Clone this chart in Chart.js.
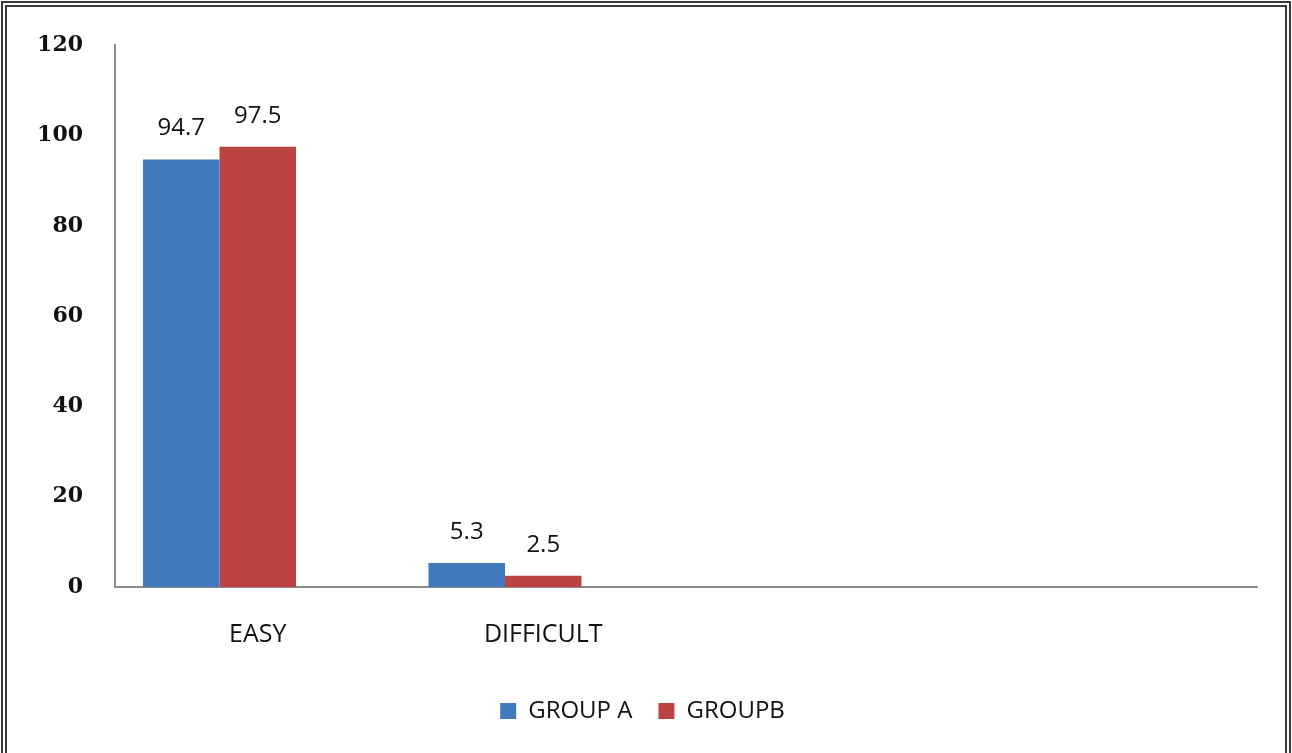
<!DOCTYPE html>
<html>
<head>
<meta charset="utf-8">
<script src="https://cdn.jsdelivr.net/npm/chart.js@4.4.1/dist/chart.umd.min.js"></script>
<style>
  html, body { margin: 0; padding: 0; background: #fff; overflow: hidden; }
  /* double frame around the chart */
  .frame {
    position: absolute; left: 1px; top: 1px;
    width: 1278px; height: 800px;
    border: 6px double #3a3a3a;
  }
  .wrap { position: absolute; left: 0; top: 0; width: 1292px; height: 753px; }
</style>
</head>
<body>
<div class="frame"></div>
<div class="wrap"><canvas id="myChart"></canvas></div>
<script>
const categories = ['EASY', 'DIFFICULT', '', ''];
const groupA = [94.7, 5.3, null, null];
const groupB = [97.5, 2.5, null, null];
// empty third series keeps the two bars on the left of each slot
const spacer = [null, null, null, null];
const yMin = 0;
const yMax = 120;
const yStep = 20;

const ctx1 = document.getElementById('myChart').getContext('2d');

/*valores em cima das barras*/
const valueLabels = {
  id: 'valueLabels',
  afterDatasetsDraw(chart) {
    const c = chart.ctx;
    c.save();
    c.font = '24px "Open Sans"';
    c.fillStyle = '#111';
    c.textAlign = 'center';
    c.textBaseline = 'alphabetic';
    [0, 1].forEach((d) => {
      const meta = chart.getDatasetMeta(d);
      meta.data.forEach((bar, i) => {
        const v = chart.data.datasets[d].data[i];
        if (v == null) return;
        c.fillText(v.toFixed(1), bar.x, bar.y - 24);
      });
    });
    c.restore();
  }
};

const data1 = {
  labels: categories,
  datasets: [
    { label: 'GROUP A', data: groupA, backgroundColor: '#4179bd' },
    { label: 'GROUPB', data: groupB, backgroundColor: '#be4441' },
    { label: '', data: spacer, backgroundColor: 'rgba(0,0,0,0)' },
  ],
};

const config1 = {
  type: 'bar',
  data: data1,
  options: {
    responsive: true,
    maintainAspectRatio: false,
    animation: false,
    categoryPercentage: 0.804,
    barPercentage: 1.0,
    layout: { padding: { left: 28, right: 35, top: 38, bottom: 20 } },
    plugins: {
      tooltip: { enabled: false },
      legend: {
        position: 'bottom',
        labels: {
          boxWidth: 16,
          boxHeight: 16,
          padding: 26,
          color: '#111',
          font: { family: '"Open Sans"', size: 24 },
          filter: (item) => item.text !== '',
        },
      },
    },
    scales: {
      x: {
        grid: { display: false, drawTicks: false },
        border: { display: true, color: '#8c8c8c', width: 2 },
        ticks: {
          color: '#111',
          padding: 33,
          font: { family: '"Open Sans"', size: 25 },
        },
        afterFit: (s) => { s.height = 86; },
      },
      y: {
        min: yMin,
        max: yMax,
        grid: { display: false, drawTicks: false },
        border: { display: true, color: '#8c8c8c', width: 2 },
        ticks: {
          stepSize: yStep,
          color: '#111',
          padding: 32,
          font: { family: '"DejaVu Serif"', size: 22, weight: 'bold' },
        },
        afterFit: (s) => { s.width = 87; },
      },
    },
  },
  plugins: [valueLabels],
};

const myChart1 = new Chart(ctx1, config1);
</script>
</body>
</html>
